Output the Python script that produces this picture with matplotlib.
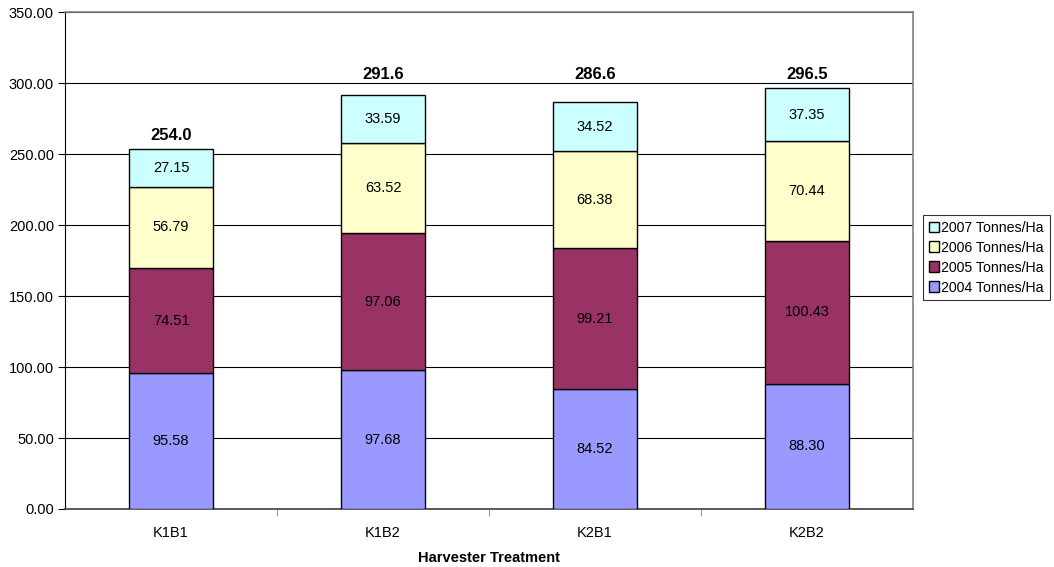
import matplotlib
matplotlib.use("Agg")
import matplotlib.pyplot as plt
import numpy as np

plt.rcParams['font.family'] = ['Liberation Sans', 'DejaVu Sans']

treatments = ["K1B1", "K1B2", "K2B1", "K2B2"]
y2004 = [95.58, 97.68, 84.52, 88.30]
y2005 = [74.51, 97.06, 99.21, 100.43]
y2006 = [56.79, 63.52, 68.38, 70.44]
y2007 = [27.15, 33.59, 34.52, 37.35]
totals = [254.0, 291.6, 286.6, 296.5]
series_names = ["2004 Tonnes/Ha", "2005 Tonnes/Ha", "2006 Tonnes/Ha", "2007 Tonnes/Ha"]
colors = ["#9999FF", "#993366", "#FFFFCC", "#CCFFFF"]

fig = plt.figure(figsize=(10.54, 5.67), dpi=100)
ax = fig.add_axes([0.0617, 0.1023, 0.8045, 0.8757])

x = np.arange(len(treatments))
bottom = np.zeros(len(treatments))
handles = []
for vals, name, c in zip([y2004, y2005, y2006, y2007], series_names, colors):
    bars = ax.bar(x, vals, width=0.4, bottom=bottom, color=c, edgecolor="black",
                  linewidth=1, label=name, zorder=3)
    handles.append(bars)
    for xi, b, v in zip(x, bottom, vals):
        ax.text(xi, b + v / 2, "%.2f" % v, ha="center", va="center", fontsize=10.5, zorder=4)
    bottom = bottom + np.array(vals)

# total labels sit just above the bar; if that would cross a gridline,
# they are pushed above the gridline instead
for xi, top, tot in zip(x, bottom, totals):
    ly = top + 9.5
    grid_above = np.ceil(top / 50.0) * 50
    if ly - 6 < grid_above < ly + 6:
        ly = grid_above + 6.3
    ax.text(xi, ly, "%.1f" % tot, ha="center", va="center",
            fontsize=12, fontweight="bold")

ax.set_xlim(-0.5, len(treatments) - 0.5)
ax.set_ylim(0, 350)
ax.set_yticks(np.arange(0, 351, 50))
ax.set_yticklabels(["%.2f" % v for v in np.arange(0, 351, 50)], fontsize=10.5)
ax.set_xticks(x)
ax.set_xticklabels(treatments, fontsize=10.5)
ax.set_xticks(np.arange(0.5, len(treatments) - 0.5, 1), minor=True)
ax.tick_params(axis="x", which="major", length=0, pad=12)
ax.tick_params(axis="x", which="minor", length=5, color="#808080", direction="out")
ax.tick_params(axis="y", length=5, direction="out", pad=3)
ax.yaxis.grid(True, color="black", linewidth=0.8, zorder=0)
ax.set_axisbelow(True)
for s in ["top", "right"]:
    ax.spines[s].set_color("#808080")
    ax.spines[s].set_linewidth(1.2)
ax.spines["left"].set_color("black")
ax.spines["bottom"].set_color("#404040")
ax.spines["bottom"].set_linewidth(1.2)
ax.set_xlabel("Harvester Treatment", fontsize=10.5, fontweight="bold", labelpad=8)

leg = fig.legend(handles[::-1], series_names[::-1], loc="upper left",
                 bbox_to_anchor=(0.8757, 0.6208), fontsize=10.2, frameon=True,
                 fancybox=False, edgecolor="black", handlelength=0.75,
                 handleheight=0.75, handletextpad=0.15, labelspacing=0.42,
                 borderpad=0.4, borderaxespad=0)
leg.get_frame().set_linewidth(0.8)
leg._legend_box.sep = 0

fig.savefig("out.png", dpi=100)
